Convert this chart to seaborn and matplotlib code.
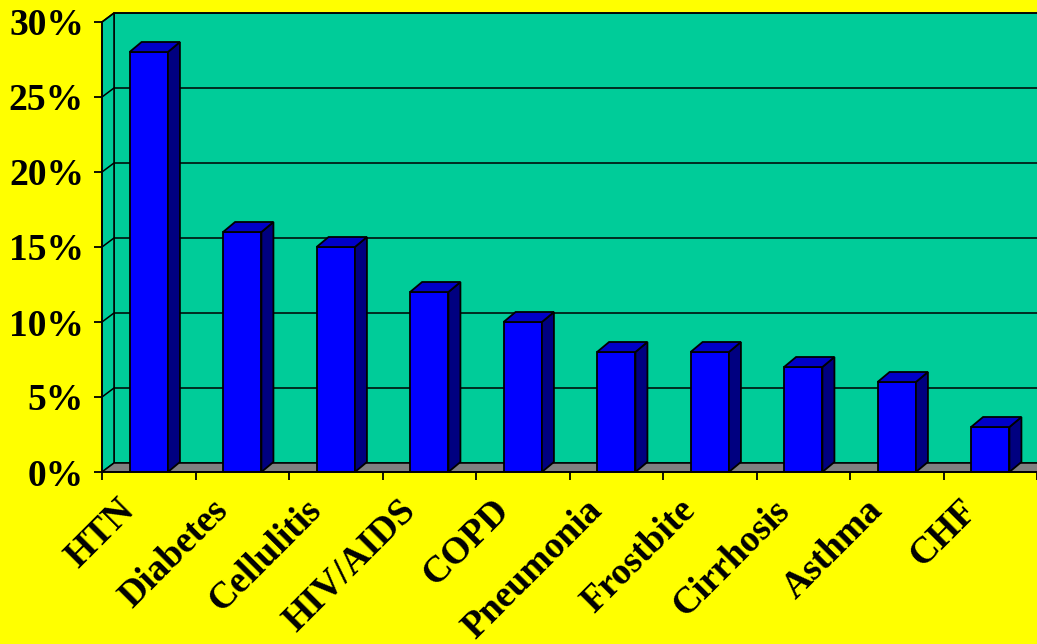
import matplotlib
matplotlib.use("Agg")
import matplotlib.pyplot as plt
import seaborn as sns
import pandas as pd
from matplotlib.patches import Polygon
from matplotlib.ticker import FuncFormatter, FixedLocator
from matplotlib.transforms import ScaledTranslation

# Share of patients per condition (%)
conditions = ["HTN", "Diabetes", "Cellulitis", "HIV/AIDS", "COPD",
              "Pneumonia", "Frostbite", "Cirrhosis", "Asthma", "CHF"]
shares = [28, 16, 15, 12, 10, 8, 8, 7, 6, 3]
y_ticks = [0, 5, 10, 15, 20, 25, 30]

YELLOW = "#FFFF00"
TEAL = "#00CC99"
FLOOR = "#808080"
FRONT = "#0000FF"
SIDE = "#000080"
TOP = "#0000C8"

sns.set_style("white")
plt.rcParams["font.family"] = ["Liberation Serif", "DejaVu Serif"]
plt.rcParams["font.weight"] = "bold"
plt.rcParams["text.color"] = "black"
plt.rcParams["xtick.color"] = "black"
plt.rcParams["ytick.color"] = "black"
plt.rcParams["xtick.labelcolor"] = "black"
plt.rcParams["ytick.labelcolor"] = "black"

W, H, DPI = 1037, 644, 100
fig = plt.figure(figsize=(W / DPI, H / DPI), dpi=DPI, facecolor=YELLOW)
ax_left, ax_bottom, ax_w, ax_h = 102, 172, 935, 450
ax = fig.add_axes([ax_left / W, ax_bottom / H, ax_w / W, ax_h / H])
ax.set_facecolor("none")

df = pd.DataFrame({"condition": conditions, "share": shares})
sns.barplot(data=df, x="condition", y="share", color=FRONT, saturation=1,
            width=0.41, edgecolor="black", linewidth=1.3, ax=ax, zorder=3)

n = len(conditions)
x0, x1 = -0.5, n - 0.5
y0, y1 = 0, 30
ax.set_xlim(x0, x1)
ax.set_ylim(y0, y1)

# depth offsets converted from pixels to data units
px_x = (x1 - x0) / ax_w
px_y = (y1 - y0) / ax_h
wall_dx, wall_dy = 12 * px_x, 9 * px_y
bar_dx, bar_dy = 12 * px_x, 10 * px_y

lw = 1.1
# back wall
ax.add_patch(Polygon([(x0 + wall_dx, y0 + wall_dy), (x1 + 2, y0 + wall_dy),
                      (x1 + 2, y1 + wall_dy), (x0 + wall_dx, y1 + wall_dy)],
                     closed=True, facecolor=TEAL, edgecolor="black", lw=lw,
                     clip_on=False, zorder=0.5))
# side wall
ax.add_patch(Polygon([(x0, y0), (x0, y1), (x0 + wall_dx, y1 + wall_dy),
                      (x0 + wall_dx, y0 + wall_dy)],
                     closed=True, facecolor=TEAL, edgecolor="black", lw=lw,
                     clip_on=False, zorder=0.6))
# gridlines on the walls
for v in y_ticks[1:]:
    ax.plot([x0, x0 + wall_dx, x1 + 2], [v, v + wall_dy, v + wall_dy],
            color="black", lw=lw, clip_on=False, zorder=0.7)
# floor
ax.add_patch(Polygon([(x0, y0), (x1 + 2, y0), (x1 + 2, y0 + wall_dy),
                      (x0 + wall_dx, y0 + wall_dy)],
                     closed=True, facecolor=FLOOR, edgecolor="black", lw=lw,
                     clip_on=False, zorder=0.8))

# side and top faces of each bar
for p in list(ax.patches):
    if not hasattr(p, "get_width") or p.get_facecolor()[2] < 0.99:
        continue
    bx, bw, bh = p.get_x(), p.get_width(), p.get_height()
    if bh <= 0:
        continue
    ax.add_patch(Polygon([(bx + bw, 0), (bx + bw + bar_dx, bar_dy),
                          (bx + bw + bar_dx, bh + bar_dy), (bx + bw, bh)],
                         closed=True, facecolor=SIDE, edgecolor="black",
                         lw=1.3, zorder=3))
    ax.add_patch(Polygon([(bx, bh), (bx + bar_dx, bh + bar_dy),
                          (bx + bw + bar_dx, bh + bar_dy), (bx + bw, bh)],
                         closed=True, facecolor=TOP, edgecolor="black",
                         lw=1.3, zorder=3))

# front axes
for side in ["top", "right"]:
    ax.spines[side].set_visible(False)
for side in ["left", "bottom"]:
    ax.spines[side].set_color("black")
    ax.spines[side].set_linewidth(1.3)
    ax.spines[side].set_zorder(4)

ax.yaxis.set_major_locator(FixedLocator(y_ticks))
ax.yaxis.set_major_formatter(FuncFormatter(lambda v, _: f"{v:.0f}%"))
ax.tick_params(axis="y", direction="out", length=6, width=1.3, color="black",
               pad=7, labelsize=27, labelcolor="black", left=True)
for t in ax.get_yticklabels():
    t.set_fontweight("bold")

# category boundaries carry the ticks, centers carry the labels
ax.set_xticks([i - 0.5 for i in range(n + 1)])
ax.set_xticklabels([""] * (n + 1))
ax.set_xticks(list(range(n)), minor=True)
ax.set_xticklabels(conditions, minor=True, rotation=45, ha="right",
                   fontsize=27, fontweight="bold", color="black")
ax.tick_params(axis="x", which="major", direction="out", length=6, width=1.3,
               color="black", bottom=True)
ax.tick_params(axis="x", which="minor", length=0, pad=15)
shift = ScaledTranslation(-7 / DPI, 0, fig.dpi_scale_trans)
for t in ax.get_xticklabels(minor=True):
    t.set_transform(t.get_transform() + shift)
ax.set_xlabel("")
ax.set_ylabel("")

fig.savefig("out.png", dpi=DPI, facecolor=YELLOW)
